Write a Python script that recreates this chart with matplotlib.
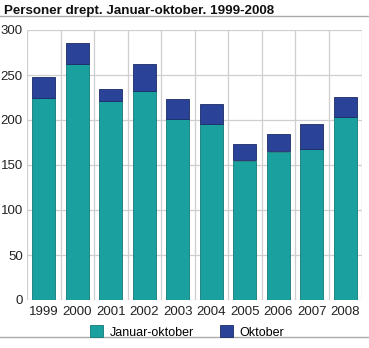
import numpy as np
import matplotlib
matplotlib.use("Agg")
import matplotlib.pyplot as plt
from matplotlib.lines import Line2D

years = ["1999", "2000", "2001", "2002", "2003", "2004", "2005", "2006", "2007", "2008"]
jan_okt = [224, 262, 221, 232, 201, 196, 155, 165, 168, 203]
oktober = [24, 24, 13, 30, 22, 22, 18, 19, 28, 23]

TEAL = "#1aa09e"
BLUE = "#2a4399"
GRID = "#cfcfcf"

plt.rcParams.update({
    "font.family": ["Liberation Sans", "DejaVu Sans"],
    "font.size": 9.5,
})

fig = plt.figure(figsize=(3.69, 3.48), dpi=100)
ax = fig.add_axes([27 / 369, 1 - 300 / 348, 335 / 369, 270 / 348])

x = np.arange(len(years))
ax.bar(x, jan_okt, width=0.7, color=TEAL, edgecolor="#117a78",
       linewidth=0.6, label="Januar-oktober", zorder=3)
ax.bar(x, oktober, width=0.7, bottom=jan_okt, color=BLUE, edgecolor="#1a2a66",
       linewidth=0.6, label="Oktober", zorder=3)

ax.set_xlim(-0.5, len(years) - 0.5)
ax.set_ylim(0, 300)
ax.set_yticks(np.arange(0, 301, 50))
ax.set_xticks(x)
ax.set_xticklabels(years)

# grid: horizontal at ticks, vertical between categories
ax.yaxis.grid(True, color=GRID, linewidth=0.9, zorder=0)
for b in np.arange(-0.5, len(years), 1.0):
    ax.axvline(b, color=GRID, linewidth=0.9, zorder=0)
for s in ax.spines.values():
    s.set_visible(False)
ax.tick_params(length=0, pad=3, colors="#222222")
ax.tick_params(axis="x", pad=4)

fig.text(0.012, 0.985, "Personer drept. Januar-oktober. 1999-2008",
         fontsize=9.6, fontweight="bold", va="top", ha="left", color="#111111")
fig.add_artist(Line2D([0, 1], [1 - 16 / 348, 1 - 16 / 348], color="#aaaaaa", linewidth=1.0))
fig.add_artist(Line2D([0, 1], [1 - 337 / 348, 1 - 337 / 348], color="#aaaaaa", linewidth=1.0))

fig.legend(loc="center", bbox_to_anchor=(187 / 369, 1 - 332 / 348), ncol=2,
           frameon=False, handlelength=1.05, handleheight=1.05,
           columnspacing=2.1, handletextpad=0.5, fontsize=9)

fig.savefig("out.png", dpi=100)
